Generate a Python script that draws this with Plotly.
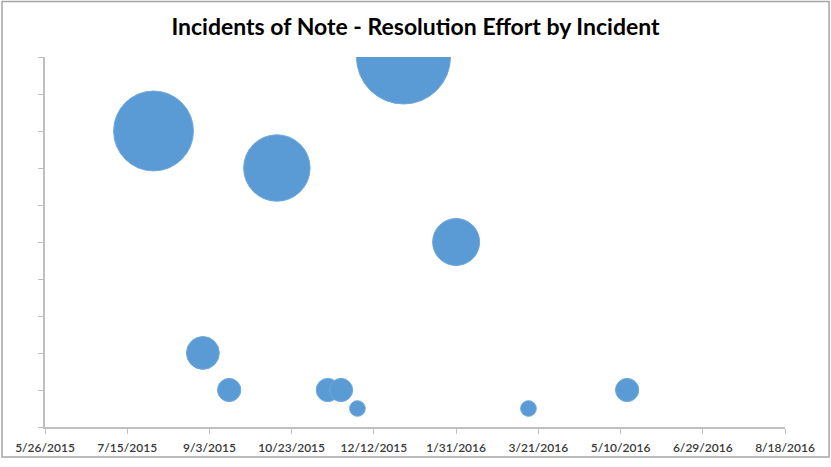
import plotly.graph_objects as go

dates = ["2015-07-31", "2015-10-14", "2015-12-30", "2016-01-31", "2015-08-30",
         "2015-09-15", "2015-11-14", "2015-11-22", "2015-12-02", "2016-03-15", "2016-05-14"]
effort_level = [8, 7, 10, 5, 2, 1, 1, 1, 0.5, 0.5, 1]
bubble_size = [26, 18, 36, 9, 4.4, 2.2, 2.2, 2.2, 1, 1, 2.2]

x_tick0 = "2015-05-26"
x_end = "2016-08-18"
tick_days = 50

fig = go.Figure()
fig.add_trace(go.Scatter(
    x=dates, y=effort_level, mode="markers",
    marker=dict(size=bubble_size, sizemode="area", sizeref=2 * 36 / 94.0 ** 2,
                color="#5B9BD5", opacity=1, line=dict(width=1, color="#6FA8DC")),
    cliponaxis=True, hoverinfo="x+y",
))

fig.update_layout(
    width=831, height=467,
    margin=dict(l=45, r=46, t=57, b=35),
    paper_bgcolor="white", plot_bgcolor="white",
    showlegend=False,
    title=dict(text="<b>Incidents of Note - Resolution Effort by Incident</b>",
               x=0.5, xanchor="center", y=0.942, yanchor="middle",
               font=dict(family="Lato, Open Sans, sans-serif", size=23, color="#000000")),
    xaxis=dict(type="date", range=[x_tick0, x_end], tick0=x_tick0,
               dtick=tick_days * 86400000, tickformat="%-m/%-d/%Y",
               showgrid=False, zeroline=False, showline=True, linecolor="#BFBFBF",
               linewidth=1.5, ticks="outside", ticklen=5, tickcolor="#BFBFBF",
               ticklabelstandoff=4,
               tickfont=dict(family="Lato, Open Sans, sans-serif", size=12, color="#3A3A3A",
                             weight=600)),
    yaxis=dict(range=[0, 10], dtick=1, showticklabels=False, showgrid=False,
               zeroline=False, showline=True, linecolor="#BFBFBF", linewidth=1.5,
               ticks="outside", ticklen=5, tickcolor="#BFBFBF"),
)

fig.add_shape(type="rect", xref="paper", yref="paper",
              x0=-0.0581, x1=1.0595, y0=-0.081, y1=1.150,
              line=dict(color="#A6A6A6", width=1.5), fillcolor="rgba(0,0,0,0)", layer="above")

fig.write_html("out.html", config={"displayModeBar": False},
               post_script="document.body.style.margin='0px';")
